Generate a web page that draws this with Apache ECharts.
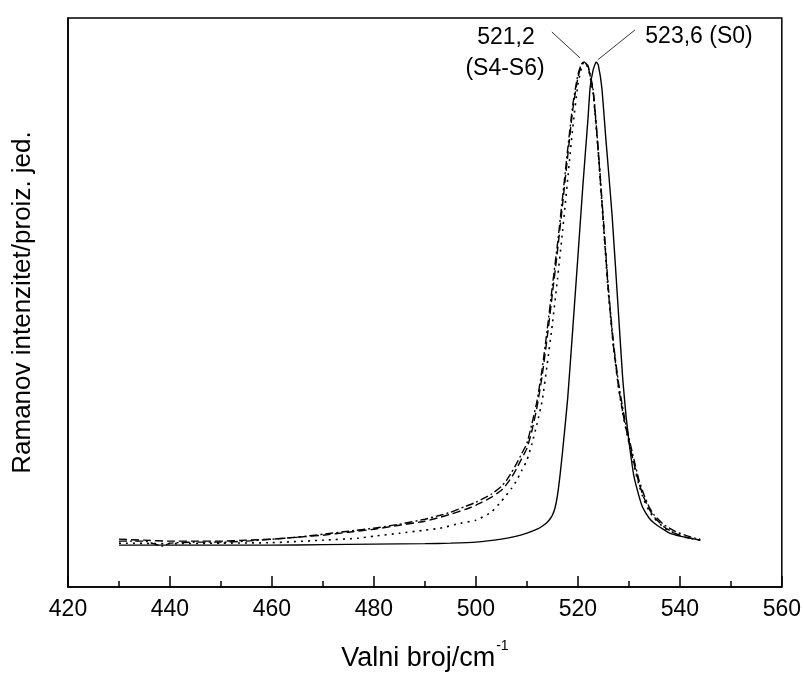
<!DOCTYPE html>
<html>
<head>
<meta charset="utf-8">
<script src="https://cdn.jsdelivr.net/npm/echarts@6/dist/echarts.min.js"></script>
<style>html,body{margin:0;padding:0;background:#fff;}#c{width:804px;height:677px;}</style>
</head>
<body>
<div id="c"></div>
<script>
// Wavenumber (cm^-1) / intensity (a.u.) pairs
const s0X = [430,440,450,460,470,480,490,495,500,505,508,510,512,513,514,514.5,515,515.5,516,516.5,517,518,519,520,521,522,522.4,523,523.6,524,524.7,525.5,526.7,528,528.8,529.5,530.2,531,532,532.7,534,535,536.7,538,540,542,544];
const s0Y = [42,42,42,42,42.5,43,43.5,44,45,48,51,54,58,61,65,68,72,79,92,112,136,189,259,331,404,471,501,519,527,524,501,449,374,272,209,169,139,111,91,80,69,64,58,54,51,49,47];

const ddX = [430,435,438.5,440,445,450,455,460,465,470,475,480,485,490,493,495,498,500,503,505,506,507,508,509,510,511,512,513,514,515,516,517,518,519,520,520.7,521.2,522,523,524,525,526,527,528,529,530,531,532,533,534,535,537,539,541,543,544];
const ddY = [46,46,41,44,45,45,46,48,50,53,56,59,63,68,72,75,81,85,93,101,107,115,124,134,144,164,187,219,259,302,344,391,439,484,514,525,527,523,499,439,369,299,244,204,174,150,128,107,92,80,72,62,56,52,49,48];

const daX = [430,435,440,445,450,455,460,465,470,475,480,485,490,493,495,498,500,503,505,506,507,508,509,510,511,512,513,514,515,516,517,518,519,520,520.7,521.2,522,523,524,525,526,527,528,529,530,531,532,533,534,535,537,539,541,543,544];
const daY = [48,47,46,46,46,47,48,50,52,55,58,62,66,70,73,78,82,90,97,103,110,119,129,139,157,181,212,251,294,337,384,432,479,511,524,527,522,497,437,366,296,241,200,170,146,124,104,89,78,70,60,54,50,48,47];

const doX = [430,440,450,460,470,477,480,485,490,493,497,500,503,505,507,508,509,510,511,512,513,514,515,516,517,518,519,520,520.7,521.2,522,523,524,525,526,527,528,529,530,531,532,533,534,535,537,539,541,543,544];
const doY = [44,43.5,44,44.5,47,49,51,54,57,59,64,67,75,86,99,107,117,127,144,164,187,224,264,309,357,409,461,504,521,527,521,495,435,364,294,240,199,169,145,122,102,87,76,69,59,54,50,48,47];

const xTicks = [420,440,460,480,500,520,540,560];
const peakLabels = ['521,2', '(S4-S6)', '523,6 (S0)'];

function pairs(xs, ys){ return xs.map((x,i)=>[x, ys[i]]); }

const chart = echarts.init(document.getElementById('c'), null, {renderer:'canvas'});
const FONT = 'Liberation Sans, Arial, sans-serif';
const lineBase = {type:'line', symbol:'none', smooth:0.15, silent:true, animation:false};

chart.setOption({
  backgroundColor:'#fff',
  animation:false,
  grid:{left:68, right:22, top:18, bottom:88, show:true, borderColor:'#000', borderWidth:1.5},
  xAxis:{
    type:'value', min:xTicks[0], max:xTicks[xTicks.length-1], interval:20,
    name:'{a|Valni broj/cm}{s|-1}', nameLocation:'middle', nameGap:50,
    nameTextStyle:{rich:{a:{fontFamily:FONT, fontSize:27, color:'#000', padding:[8,0,0,0]}, s:{fontFamily:FONT, fontSize:14, color:'#000', padding:[0,0,16,1]}}},
    axisLine:{show:true, onZero:false, lineStyle:{color:'#000', width:1.5}},
    axisTick:{show:true, inside:true, length:11, lineStyle:{color:'#000', width:1.5}},
    minorTick:{show:true, splitNumber:2, length:6, lineStyle:{color:'#000', width:1.5}},
    axisLabel:{fontFamily:FONT, fontSize:23, color:'#000', margin:11},
    splitLine:{show:false}
  },
  yAxis:{
    type:'value', min:0, max:571,
    name:'Ramanov intenzitet/proiz. jed.', nameLocation:'middle', nameGap:32,
    nameTextStyle:{fontFamily:FONT, fontSize:26, color:'#000'},
    axisLine:{show:true, lineStyle:{color:'#000', width:1.5}},
    axisTick:{show:false}, axisLabel:{show:false}, splitLine:{show:false}
  },
  series:[
    Object.assign({}, lineBase, {name:'S0', data:pairs(s0X,s0Y), lineStyle:{color:'#000', width:1.4, type:'solid'},
      markLine:{silent:true, symbol:'none', animation:false, label:{show:false}, lineStyle:{color:'#000', width:0.8, type:'solid'},
        data:[
          [{coord:[514.9,557]},{coord:[520.4,531]}],
          [{coord:[531.2,559]},{coord:[523.9,529]}]
        ]}}),
    Object.assign({}, lineBase, {name:'dashdot', data:pairs(ddX,ddY), lineStyle:{color:'#000', width:1.4, type:[8,3,2,3]}}),
    Object.assign({}, lineBase, {name:'dashed', data:pairs(daX,daY), lineStyle:{color:'#000', width:1.4, type:[8,4]}}),
    Object.assign({}, lineBase, {name:'dotted', data:pairs(doX,doY), lineStyle:{color:'#000', width:1.6, type:[2,5]}})
  ],
  graphic:[
    {type:'text', x:506, y:38, style:{text:peakLabels[0], font:'23px '+FONT, fill:'#000', align:'center', verticalAlign:'middle'}},
    {type:'text', x:505, y:69, style:{text:peakLabels[1], font:'23px '+FONT, fill:'#000', align:'center', verticalAlign:'middle'}},
    {type:'text', x:699, y:37, style:{text:peakLabels[2], font:'23px '+FONT, fill:'#000', align:'center', verticalAlign:'middle'}}
  ]
});
</script>
</body>
</html>
